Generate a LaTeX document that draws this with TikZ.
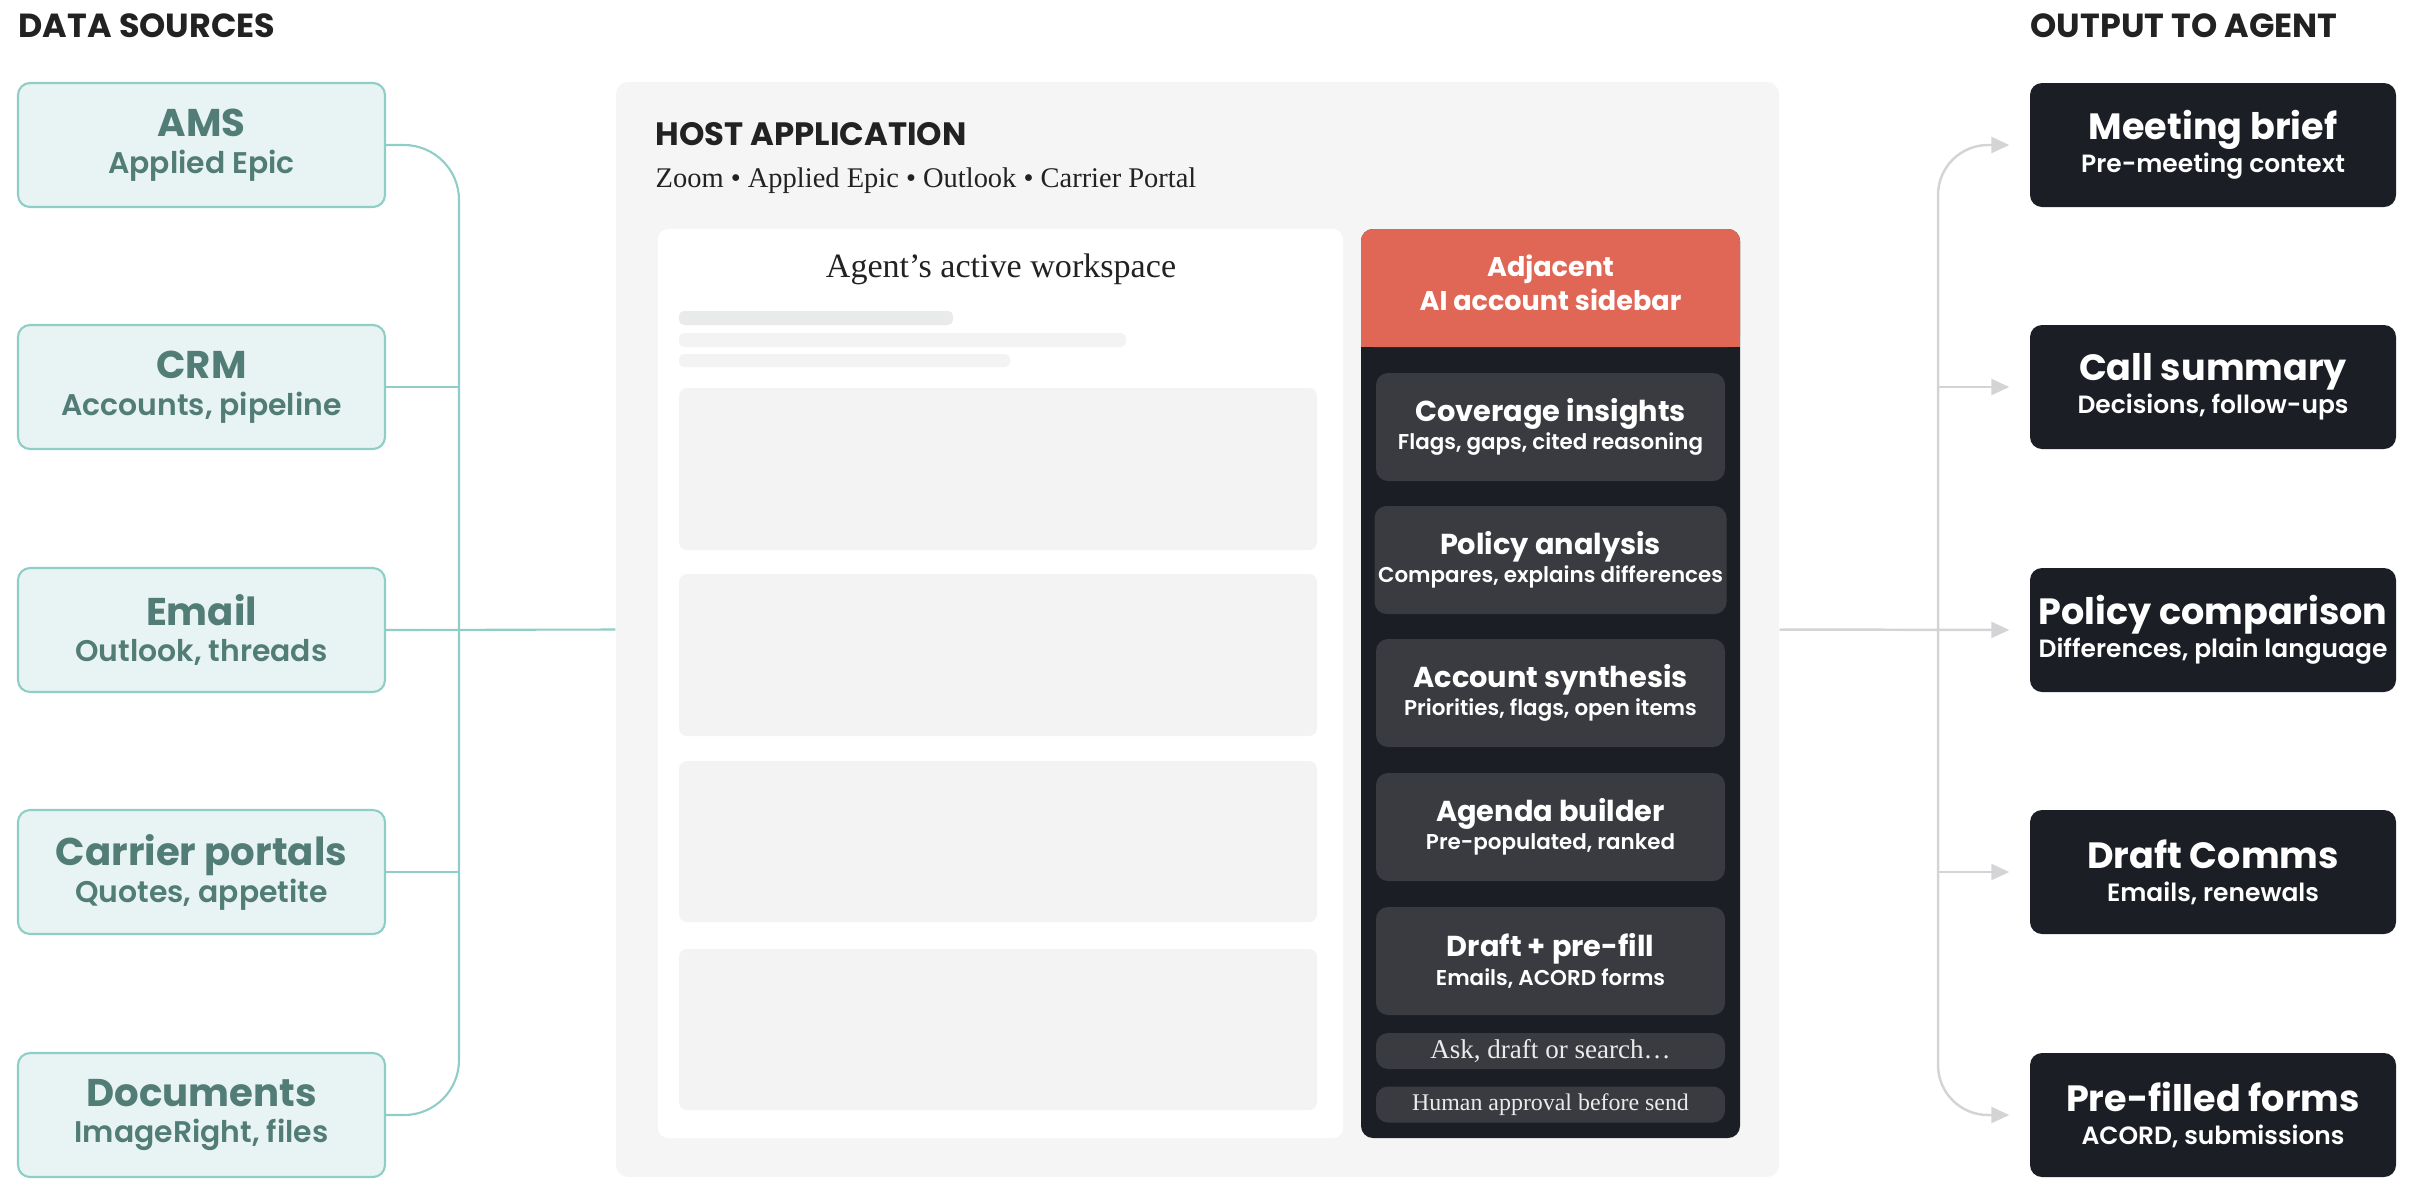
\documentclass[tikz,border=0pt]{standalone}
\usepackage{fontspec}
\usepackage{xcolor}
\usetikzlibrary{arrows.meta}

\setmainfont{Liberation Serif}
\newfontfamily\popp{Poppins}
\IfFontExistsTF{Poppins SemiBold}{\newfontfamily\popsemi{Poppins SemiBold}}{\newcommand{\popsemi}{\popp\bfseries}}
\newcommand{\popbold}{\popp\bfseries}
\newcommand{\srcsub}{\popsemi\fontsize{8.5}{10}\selectfont}
\newcommand{\outsub}{\popsemi\fontsize{7.1}{9}\selectfont}
\newcommand{\cardsub}{\popsemi\fontsize{6.1}{7}\selectfont}

\definecolor{srcfill}{RGB}{232,244,243}
\definecolor{srcline}{RGB}{143,206,199}
\definecolor{srctext}{RGB}{82,125,118}
\definecolor{hostbg}{RGB}{245,245,245}
\definecolor{skel}{RGB}{243,243,243}
\definecolor{skeldark}{RGB}{233,234,234}
\definecolor{sidered}{RGB}{224,102,86}
\definecolor{sidedark}{RGB}{27,31,37}
\definecolor{cardgray}{RGB}{58,59,64}
\definecolor{outgray}{RGB}{212,212,214}
\definecolor{headtext}{RGB}{34,34,34}

\begin{document}
\begin{tikzpicture}[x=0.1mm, y=-0.1mm, >={Triangle[length=1.8mm, width=1.6mm]}]
		\tikzstyle{head} = [anchor=base west, inner sep=0pt, text=headtext, font=\popbold\fontsize{9.5}{10}\selectfont]
		\tikzstyle{src} = [draw=srcline, line width=0.6pt, fill=srcfill, rounded corners=1.2mm, minimum width=36.7mm, minimum height=12.4mm, inner sep=1pt, align=center, text=srctext, font=\fontsize{11}{10.5}\selectfont]
		\tikzstyle{outbox} = [fill=sidedark, rounded corners=1.2mm, minimum width=36.6mm, minimum height=12.4mm, inner sep=1pt, align=center, text=white, font=\fontsize{10.4}{9.4}\selectfont]
		\tikzstyle{card} = [fill=cardgray, rounded corners=1.2mm, minimum width=34.9mm, minimum height=10.8mm, inner sep=1pt, align=center, text=white, font=\fontsize{8.2}{8.1}\selectfont]
		\tikzstyle{bar} = [fill=cardgray, rounded corners=1.2mm, minimum width=34.9mm, minimum height=3.6mm, inner sep=0pt, text=white!92!black]
		\tikzstyle{inline} = [draw=srcline, line width=0.6pt]
		\tikzstyle{outline} = [draw=outgray, line width=0.7pt, ->, outgray, shorten >=2mm]
		
		\useasboundingbox (0,0) rectangle (2415,1193);
		
		\node[head] 	at (18,37) 		(dshead) 	{DATA SOURCES};
		\node[head] 	at (2030,37) 	(outhead) 	{OUTPUT TO AGENT};
		
		% data sources
		\node[src] 	at (201.5,145) 	(ams) 	{{\popbold AMS}\\{\srcsub Applied Epic}};
		\node[src] 	at (201.5,387) 	(crm) 	{{\popbold CRM}\\{\srcsub Accounts, pipeline}};
		\node[src] 	at (201.5,630) 	(email) 	{{\popbold Email}\\{\srcsub Outlook, threads}};
		\node[src] 	at (201.5,872) 	(carr) 	{{\popbold Carrier portals}\\{\srcsub Quotes, appetite}};
		\node[src] 	at (201.5,1115) 	(docs) 	{{\popbold Documents}\\{\srcsub ImageRight, files}};
		
		% host application
		\node[fill=hostbg, rounded corners=1.2mm, minimum width=116.3mm, minimum height=109.5mm, inner sep=0pt] at (1197.5,629.5) (host) {};
		\node[head, font=\popbold\fontsize{9.2}{10}\selectfont] at (655,145) (hosttitle) {HOST APPLICATION};
		\node[anchor=base west, inner sep=0pt, text=headtext, font=\fontsize{8.1}{9}\selectfont] at (655,187) (hostapps) {Zoom • Applied Epic • Outlook • Carrier Portal};
		
		\node[fill=white, rounded corners=1mm, minimum width=68.5mm, minimum height=90.9mm, inner sep=0pt] at (1000.5,683.5) (ws) {};
		\node[anchor=base, inner sep=0pt, text=headtext, font=\fontsize{9.7}{11}\selectfont] at (1001,277) (wstitle) {Agent’s active workspace};
		\fill[skeldark, rounded corners=0.5mm] (679,311) rectangle (953,325);
		\fill[skel, rounded corners=0.5mm] (679,333) rectangle (1126,347);
		\fill[skel, rounded corners=0.5mm] (679,354) rectangle (1010,367);
		\fill[skel, rounded corners=0.8mm] (679,388) rectangle (1317,550);
		\fill[skel, rounded corners=0.8mm] (679,574) rectangle (1317,736);
		\fill[skel, rounded corners=0.8mm] (679,761) rectangle (1317,922);
		\fill[skel, rounded corners=0.8mm] (679,949) rectangle (1317,1110);
		
		% sidebar
		\node[fill=sidedark, rounded corners=1.2mm, minimum width=37.9mm, minimum height=90.9mm, inner sep=0pt] at (1550.5,683.5) (side) {};
		\fill[sidered, rounded corners=1.2mm] (1361,229) rectangle (1740,347);
		\fill[sidered] (1361,300) rectangle (1740,347);
		\node[align=center, text=white, font=\popbold\fontsize{7.7}{9.6}\selectfont] at (1550.5,283) (sidehead) {Adjacent\\AI account sidebar};
		
		\node[card] 	at (1550.5,427) 	(ci) 	{{\popbold Coverage insights}\\{\cardsub Flags, gaps, cited reasoning}};
		\node[card] 	at (1550.5,560) 	(pa) 	{{\popbold Policy analysis}\\{\cardsub Compares, explains differences}};
		\node[card] 	at (1550.5,693) 	(as) 	{{\popbold Account synthesis}\\{\cardsub Priorities, flags, open items}};
		\node[card] 	at (1550.5,827) 	(ab) 	{{\popbold Agenda builder}\\{\cardsub Pre-populated, ranked}};
		\node[card] 	at (1550.5,961) 	(dp) 	{{\popbold Draft + pre-fill}\\{\cardsub Emails, ACORD forms}};
		\node[bar, font=\fontsize{7.7}{9}\selectfont] 	at (1550.5,1051) 	(ask) 	{Ask, draft or search…};
		\node[bar, font=\fontsize{6.8}{8}\selectfont] 	at (1550.5,1104.5) 	(appr) 	{Human approval before send};
		
		% outputs
		\node[outbox] 	at (2213,145) 	(mb) 	{{\popbold Meeting brief}\\{\outsub Pre-meeting context}};
		\node[outbox] 	at (2213,387) 	(cs) 	{{\popbold Call summary}\\{\outsub Decisions, follow-ups}};
		\node[outbox] 	at (2213,630) 	(pc) 	{{\popbold Policy comparison}\\{\outsub Differences, plain language}};
		\node[outbox] 	at (2213,872) 	(dc) 	{{\popbold Draft Comms}\\{\outsub Emails, renewals}};
		\node[outbox] 	at (2213,1115) 	(pf) 	{{\popbold Pre-filled forms}\\{\outsub ACORD, submissions}};
		
		\coordinate (jl) at (459,630);
		\coordinate (jr) at (1938,630);
		
		\draw[inline, rounded corners=5.5mm] (ams.east) -| (jl);
		\draw[inline, rounded corners=5.5mm] (docs.east) -| (jl);
		\draw[inline] (crm.east) -- (crm.east -| jl);
		\draw[inline] (carr.east) -- (carr.east -| jl);
		\draw[inline] (email.east) -- (host.west);
		
		\draw[outline] (host.east) -- (pc.west);
		\draw[outline, rounded corners=5mm] (jr) |- (mb.west);
		\draw[outline, rounded corners=5mm] (jr) |- (pf.west);
		\draw[outline] (cs.west -| jr) -- (cs.west);
		\draw[outline] (dc.west -| jr) -- (dc.west);
\end{tikzpicture}
\end{document}
